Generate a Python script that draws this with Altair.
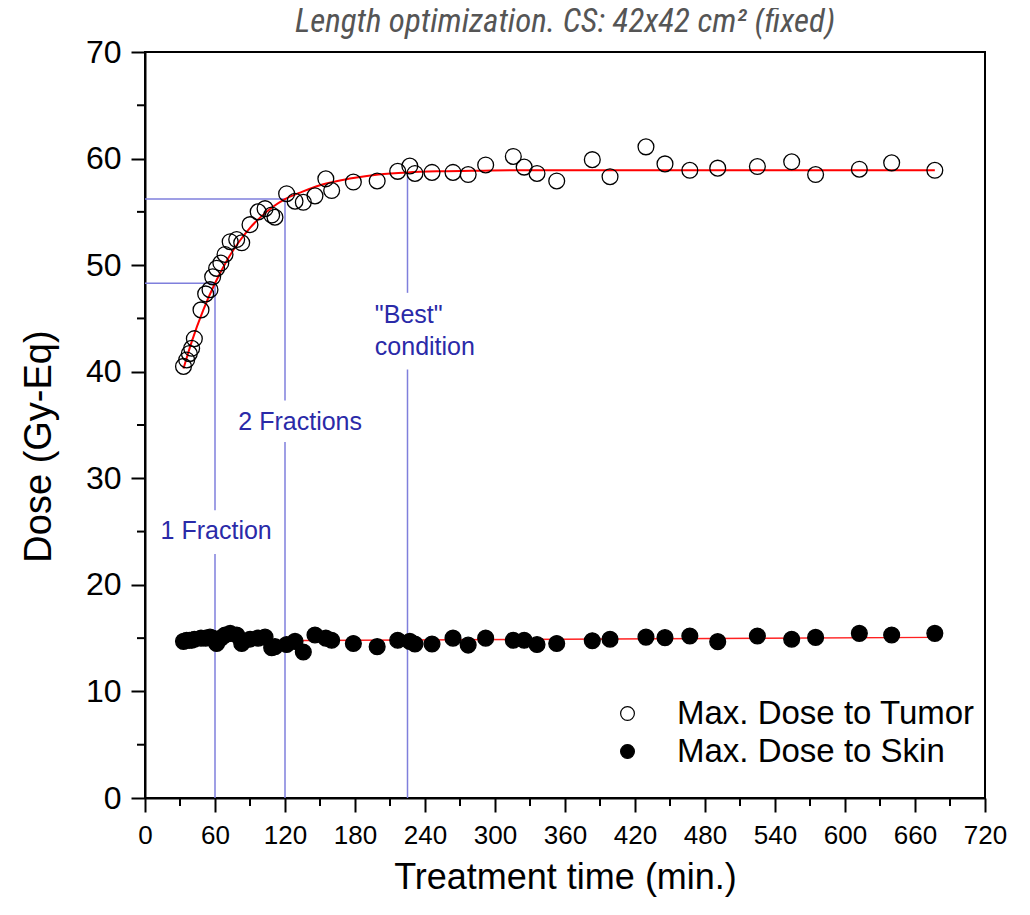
import altair as alt
import pandas as pd

# ---- data ----
times = [33, 35.7, 38, 40, 42.3, 48, 52, 55.7, 58, 61.4, 65, 68.6, 73, 78.6, 82.9,
         90, 97, 102.9, 108.6, 111.4, 121.4, 128.6, 135.7, 145.7, 155, 160, 178.6,
         199, 216.6, 227, 231.4, 246, 264, 277, 292, 315.7, 325, 336, 352.9, 383.4,
         398.6, 429.4, 445.7, 467, 490.9, 524.9, 554.3, 574.8, 612.3, 640, 677]
tumor_dose = [40.5, 41.1, 41.7, 42.2, 43.1, 45.8, 47.3, 47.7, 48.9, 49.7, 50.2, 51.0,
              52.2, 52.4, 52.1, 53.8, 55.0, 55.3, 54.7, 54.5, 56.7, 56.0, 55.9, 56.5,
              58.1, 57.0, 57.8, 57.9, 58.8, 59.3, 58.6, 58.7, 58.7, 58.5, 59.4, 60.2,
              59.2, 58.6, 57.9, 59.9, 58.3, 61.1, 59.5, 58.9, 59.1, 59.25, 59.7, 58.5,
              59.0, 59.6, 58.9]
skin_dose = [14.7, 14.8, 14.8, 14.8, 14.9, 15.0, 15.0, 15.1, 15.0, 14.5, 15.0, 15.3,
             15.45, 15.3, 14.5, 14.9, 15.0, 15.1, 14.1, 14.2, 14.4, 14.7, 13.7, 15.3,
             15.0, 14.8, 14.5, 14.2, 14.8, 14.7, 14.45, 14.45, 15.0, 14.35, 15.0, 14.8,
             14.8, 14.4, 14.5, 14.76, 14.9, 15.1, 15.05, 15.2, 14.67, 15.2, 14.9, 15.07,
             15.45, 15.3, 15.45]

# fitted saturation curve for the tumor dose
fit_t = [33, 40, 50, 60, 70, 80, 90, 100, 110, 120, 135, 150, 165, 180, 200, 225,
         250, 280, 320, 400, 500, 600, 677]
fit_v = [40.3, 42.8, 45.8, 48.3, 50.4, 52.1, 53.5, 54.6, 55.5, 56.2, 56.9, 57.5,
         57.9, 58.2, 58.5, 58.7, 58.8, 58.85, 58.9, 58.9, 58.9, 58.9, 58.9]

series_names = ["Max. Dose to Tumor", "Max. Dose to Skin"]
title_text = ["Length optimization. CS: 42x42 cm² (fixed)"]

# reference (guide) lines
h_y = [48.3, 56.2]
h_t_end = [60, 120]
v_t = [60, 60, 120, 120, 225, 225]
v_from = [0, 27.0, 0, 37.3, 0, 47.4]
v_to = [22.9, 48.3, 33.4, 56.2, 40.2, 58.7]

ann_center_text = ["1 Fraction", "2 Fractions"]
ann_center_t = [61, 133]
ann_center_v = [25.1, 35.3]
ann_left_text = ["\"Best\"", "condition"]
ann_left_t = [197, 197]
ann_left_v = [45.3, 42.3]

x_ticks = list(range(0, 721, 60))
x_minor = list(range(30, 720, 60))
y_ticks = list(range(0, 71, 10))
y_minor = list(range(5, 70, 10))

W, H = 840, 746
BLUE_LINE = "#7f7fdc"
BLUE_TEXT = "#2a2aa8"
FONT = "Liberation Sans"

pts = pd.DataFrame({
    "t": times + times,
    "v": tumor_dose + skin_dose,
    "series": [series_names[0]] * len(times) + [series_names[1]] * len(times),
})
skin_df = pd.DataFrame({"t": times, "v": skin_dose})
fit_df = pd.DataFrame({"t": fit_t, "v": fit_v})
h_df = pd.DataFrame({"y": h_y, "x0": [0] * len(h_y), "x1": h_t_end})
v_df = pd.DataFrame({"t": v_t, "y0": v_from, "y1": v_to})
annc_df = pd.DataFrame({"text": ann_center_text, "t": ann_center_t, "v": ann_center_v})
annl_df = pd.DataFrame({"text": ann_left_text, "t": ann_left_t, "v": ann_left_v})
xm_df = pd.DataFrame({"t": x_minor})
ym_df = pd.DataFrame({"v": y_minor})
title_df = pd.DataFrame({"text": title_text})

xscale = alt.Scale(domain=[0, 720], nice=False, zero=False)
yscale = alt.Scale(domain=[0, 70], nice=False, zero=False)

xaxis = alt.Axis(values=x_ticks, title="Treatment time (min.)", labelFontSize=26,
                 titleFontSize=36, labelPadding=10, titlePadding=12, labelFlush=False,
                 titleFontWeight="normal")
yaxis = alt.Axis(values=y_ticks, title="Dose (Gy-Eq)", labelFontSize=32,
                 titleFontSize=38, labelPadding=10, titleFontWeight="normal",
                 titleAngle=270, titleAlign="center", titleBaseline="top",
                 titleX=-125, titleY=394)

X = alt.X("t:Q", scale=xscale, axis=xaxis)
Y = alt.Y("v:Q", scale=yscale, axis=yaxis)

hrules = alt.Chart(h_df).mark_rule(color=BLUE_LINE, strokeWidth=1.5).encode(
    x=alt.X("x0:Q", scale=xscale, axis=xaxis), x2="x1:Q",
    y=alt.Y("y:Q", scale=yscale, axis=yaxis))
vrules = alt.Chart(v_df).mark_rule(color=BLUE_LINE, strokeWidth=1.5).encode(
    x=alt.X("t:Q", scale=xscale, axis=xaxis),
    y=alt.Y("y0:Q", scale=yscale, axis=yaxis), y2="y1:Q")

fit_line = alt.Chart(fit_df).mark_line(color="#ff0000", strokeWidth=2,
                                       interpolate="monotone").encode(x=X, y=Y)
skin_line = alt.Chart(skin_df).transform_regression(
    "t", "v", extent=[33, 677]).mark_line(color="#ff2020", strokeWidth=1.3).encode(x=X, y=Y)

points = alt.Chart(pts).mark_point(shape="circle", size=250, filled=False,
                                   strokeWidth=1.3, opacity=1).encode(
    x=X, y=Y,
    stroke=alt.value("black"),
    fill=alt.Fill("series:N",
                  scale=alt.Scale(domain=series_names,
                                  range=["rgba(255,255,255,0)", "black"]),
                  legend=alt.Legend(title=None, orient="none", legendX=466, legendY=645,
                                    symbolType="circle", symbolSize=190,
                                    symbolStrokeColor="black", symbolStrokeWidth=1.2,
                                    labelFontSize=33, labelFont=FONT, labelColor="black",
                                    labelOffset=33, rowPadding=4, padding=0,
                                    labelLimit=500)),
)

texts_c = alt.Chart(annc_df).mark_text(fontSize=25, font=FONT, color=BLUE_TEXT,
                                       baseline="middle", align="center").encode(
    x=X, y=Y, text="text:N")
texts_l = alt.Chart(annl_df).mark_text(fontSize=25, font=FONT, color=BLUE_TEXT,
                                       baseline="middle", align="left").encode(
    x=X, y=Y, text="text:N")

title_mark = alt.Chart(title_df).mark_text(
    font="Liberation Sans Narrow, Arial Narrow, Roboto Condensed, sans-serif",
    fontSize=33, fontStyle="italic", color="#555555", align="center",
    baseline="alphabetic").encode(
    text="text:N", x=alt.value(W / 2), y=alt.value(-20))

xminor = alt.Chart(xm_df).mark_rule(color="black", strokeWidth=2).encode(
    x=X, y=alt.value(H), y2=alt.value(H + 8))
yminor = alt.Chart(ym_df).mark_rule(color="black", strokeWidth=2).encode(
    y=Y, x=alt.value(0), x2=alt.value(-8))

chart = alt.layer(hrules, vrules, fit_line, skin_line, points, texts_c, texts_l,
                  title_mark, xminor, yminor).properties(
    width=W, height=H,
    autosize=alt.AutoSizeParams(type="none"),
    padding={"left": 137, "top": 44, "right": 30, "bottom": 100},
).configure_view(stroke="black", strokeWidth=2, clip=False).configure_axis(
    grid=False, domainColor="black", domainWidth=2, tickColor="black", tickWidth=2,
    tickSize=14, labelColor="black", titleColor="black", labelFont=FONT, titleFont=FONT,
)

chart.save("out.html", embed_options={"renderer": "svg", "actions": False})
